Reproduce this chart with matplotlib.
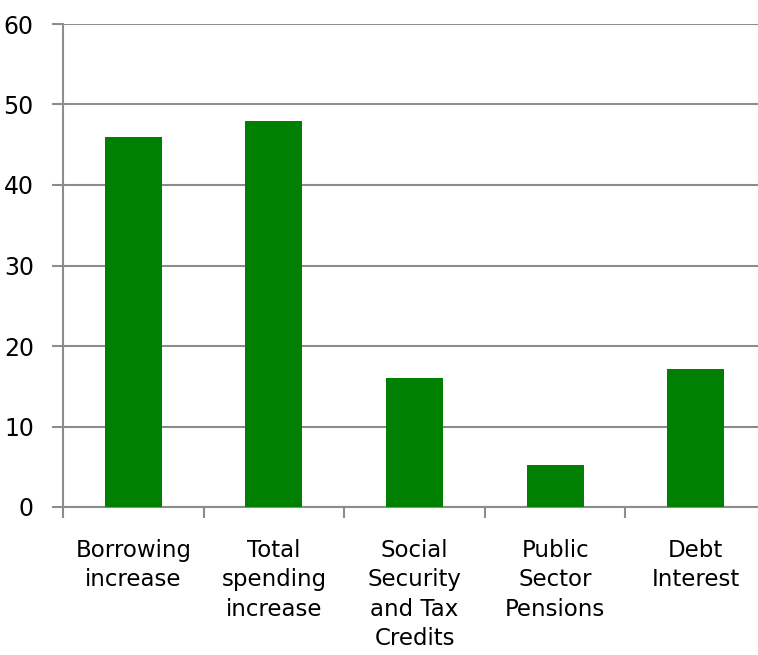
import matplotlib
matplotlib.use("Agg")
import matplotlib.pyplot as plt
import numpy as np

categories = ["Borrowing\nincrease", "Total\nspending\nincrease", "Social\nSecurity\nand Tax\nCredits",
              "Public\nSector\nPensions", "Debt\nInterest"]
values = [46, 48, 16, 5.2, 17.2]
yticks = [0, 10, 20, 30, 40, 50, 60]

plt.rcParams['font.family'] = ['DejaVu Sans']

W, H = 758, 655
fig = plt.figure(figsize=(W / 100, H / 100), dpi=100)
left, right, top, bottom = 63, 766, 24, 507
ax = fig.add_axes([left / W, 1 - bottom / H, (right - left) / W, (bottom - top) / H])

grey = "#8c8c8c"
x = np.arange(len(categories))
ax.bar(x, values, width=0.405, color="#008000", zorder=3)
ax.set_xlim(-0.5, len(categories) - 0.5)
ax.set_ylim(0, 60)
ax.set_yticks(yticks)
ax.set_yticklabels([str(t) for t in yticks], fontsize=17)
ax.yaxis.grid(True, color=grey, linewidth=1.5, zorder=0)
ax.set_axisbelow(True)

ax.set_xticks(np.arange(len(categories) + 1) - 0.5)
ax.set_xticklabels([])
ax.set_xticks(x, minor=True)
ax.set_xticklabels(categories, minor=True, fontsize=16.5, linespacing=1.36, va="top")
ax.tick_params(axis="x", which="major", length=8, width=1.5, color=grey, direction="out")
ax.tick_params(axis="x", which="minor", length=0, pad=23)
ax.tick_params(axis="y", length=8, width=1.5, color=grey, direction="out", pad=13)

for s in ["top", "right"]:
    ax.spines[s].set_visible(False)
for s in ["left", "bottom"]:
    ax.spines[s].set_color(grey)
    ax.spines[s].set_linewidth(1.5)

fig.savefig("out.png", dpi=100)
